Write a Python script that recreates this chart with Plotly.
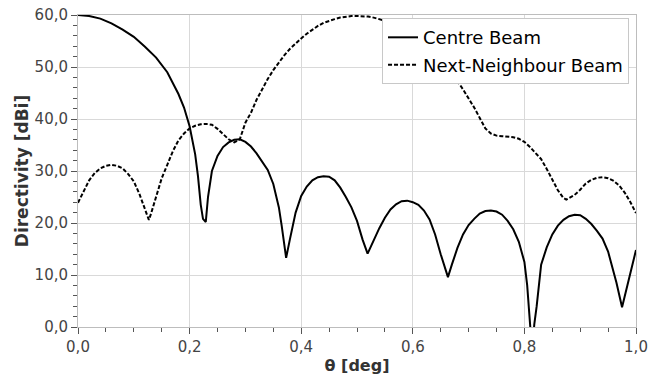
import plotly.graph_objects as go

# Centre beam
theta_c = [0.00, 0.02, 0.04, 0.06, 0.08, 0.10, 0.12, 0.14, 0.16, 0.18, 0.19, 0.20, 0.21, 0.215, 0.22, 0.224, 0.229,
           0.233, 0.24, 0.25, 0.26, 0.27, 0.28, 0.29, 0.30, 0.31, 0.32, 0.33, 0.34, 0.35, 0.36, 0.365, 0.373,
           0.38, 0.385, 0.39, 0.40, 0.41, 0.42, 0.43, 0.44, 0.45, 0.46, 0.47, 0.48, 0.49, 0.50, 0.51, 0.519,
           0.525, 0.53, 0.54, 0.55, 0.56, 0.57, 0.58, 0.59, 0.60, 0.61, 0.62, 0.63, 0.64, 0.65, 0.663,
           0.67, 0.68, 0.69, 0.70, 0.71, 0.72, 0.73, 0.74, 0.75, 0.76, 0.77, 0.78, 0.79, 0.80, 0.805, 0.81, 0.814,
           0.8177, 0.822, 0.83, 0.84, 0.85, 0.86, 0.87, 0.88, 0.89, 0.90, 0.91, 0.92, 0.93, 0.94, 0.95, 0.96, 0.965,
           0.975, 0.98, 0.99, 1.00]
dir_c = [60.0, 59.8, 59.3, 58.4, 57.2, 55.8, 53.9, 51.8, 49.0, 44.8, 42.2, 38.6, 33.2, 29.0, 23.5, 20.8, 20.2,
         25.0, 30.0, 32.9, 34.6, 35.5, 36.0, 36.1, 35.6, 34.7, 33.4, 31.9, 30.2, 27.5, 23.0, 19.5, 13.3,
         17.0, 19.5, 22.0, 25.2, 27.0, 28.2, 28.8, 29.0, 28.9, 28.2, 26.8, 25.0, 23.0, 20.4, 16.8, 14.1,
         15.5, 17.0, 19.0, 21.0, 22.6, 23.6, 24.2, 24.3, 24.0, 23.5, 22.4, 20.7, 17.8, 14.0, 9.6,
         12.0, 15.2, 17.8, 19.6, 20.8, 21.8, 22.3, 22.4, 22.2, 21.6, 20.4, 18.8, 16.4, 12.5, 8.0, 0.5, -5.0,
         0.5, 4.0, 12.0, 15.3, 17.8, 19.5, 20.6, 21.3, 21.6, 21.5, 20.8, 19.8, 18.5, 17.0, 14.5, 10.8, 8.5,
         3.8, 6.0, 9.8, 14.8]

# Next-neighbour beam
theta_n = [0.00, 0.01, 0.02, 0.03, 0.04, 0.05, 0.06, 0.07, 0.08, 0.09, 0.10, 0.11, 0.12, 0.127, 0.13, 0.14,
           0.15, 0.16, 0.17, 0.18, 0.19, 0.20, 0.21, 0.22, 0.23, 0.24, 0.25, 0.26, 0.27, 0.28, 0.29, 0.30,
           0.31, 0.32, 0.33, 0.34, 0.35, 0.36, 0.37, 0.38, 0.39, 0.40, 0.41, 0.42, 0.43, 0.44, 0.45, 0.46,
           0.47, 0.48, 0.49, 0.50, 0.51, 0.52, 0.53, 0.54, 0.55, 0.56, 0.57, 0.58, 0.59, 0.60, 0.61, 0.62,
           0.63, 0.64, 0.65, 0.66, 0.67, 0.68, 0.69, 0.70, 0.71, 0.72, 0.73, 0.74, 0.75, 0.76, 0.77, 0.78,
           0.79, 0.80, 0.81, 0.82, 0.83, 0.84, 0.85, 0.86, 0.87, 0.875, 0.88, 0.89, 0.90, 0.91, 0.92, 0.93,
           0.94, 0.95, 0.96, 0.97, 0.98, 0.99, 1.00]
dir_n = [23.9, 26.2, 28.2, 29.6, 30.5, 31.0, 31.2, 31.0, 30.5, 29.4, 28.0, 25.6, 22.6, 20.6, 21.5, 25.3,
         28.6, 31.2, 33.8, 35.9, 37.2, 38.2, 38.7, 39.0, 39.05, 38.9, 38.1, 37.1, 36.1, 35.5, 36.1, 39.3,
         41.2, 43.7, 45.8, 47.7, 49.4, 50.9, 52.3, 53.5, 54.6, 55.5, 56.4, 57.2, 57.9, 58.5, 58.9, 59.2,
         59.5, 59.7, 59.8, 59.8, 59.8, 59.7, 59.5, 59.2, 58.9, 58.6, 58.1, 57.5, 56.8, 56.1, 55.3, 54.4,
         53.4, 52.3, 51.1, 49.8, 48.6, 47.3, 45.7, 44.0, 42.2, 40.2, 38.2, 37.2, 36.8, 36.7, 36.6, 36.5,
         36.2, 35.6, 34.6, 33.5, 32.3, 30.4, 28.2, 26.3, 24.8, 24.5, 24.8, 25.4, 26.4, 27.6, 28.3, 28.7,
         28.8, 28.6, 28.1, 27.2, 25.8, 24.0, 21.9]

series_names = ["Centre Beam", "Next-Neighbour Beam"]

FONT = "DejaVu Sans"

fig = go.Figure()
fig.add_trace(go.Scatter(x=theta_c, y=dir_c, mode="lines", name=series_names[0], legendgroup="a",
                         line=dict(color="black", width=2)))
fig.add_trace(go.Scatter(x=theta_n, y=dir_n, mode="lines", name=series_names[1], legendgroup="b",
                         line=dict(color="black", width=2, dash="4px,2px")))

fig.update_layout(
    width=659, height=376,
    margin=dict(l=78, r=23, t=15, b=49, autoexpand=False),
    paper_bgcolor="white", plot_bgcolor="white",
    separators=",.",
    font=dict(family=FONT, color="#333333"),
    showlegend=True,
    legend=dict(x=0.9875, y=0.99, xanchor="right", yanchor="top",
                bgcolor="white", bordercolor="#c8c8c8", borderwidth=1,
                font=dict(family=FONT, size=18, color="black"),
                tracegroupgap=1, traceorder="grouped", itemwidth=30),
)
fig.update_xaxes(range=[0, 1], dtick=0.2, tick0=0, tickformat=".1f", automargin=False,
                 showgrid=True, gridcolor="#d9d9d9", gridwidth=1,
                 showline=True, linecolor="#bdbdbd", linewidth=1, mirror=True,
                 ticks="outside", ticklen=6, tickcolor="#555555",
                 minor=dict(dtick=0.05, ticks="outside", ticklen=4, tickcolor="#555555", showgrid=False),
                 tickfont=dict(family=FONT, size=15, color="#444444"),
                 title=dict(text="θ [deg]", font=dict(family=FONT, size=16, color="#333333", weight="bold"),
                            standoff=4),
                 zeroline=False)
fig.update_yaxes(range=[0, 60], dtick=10, tick0=0, tickformat=".1f", automargin=False,
                 showgrid=True, gridcolor="#d9d9d9", gridwidth=1,
                 showline=True, linecolor="#bdbdbd", linewidth=1, mirror=True,
                 ticks="outside", ticklen=6, tickcolor="#555555",
                 minor=dict(dtick=2, ticks="outside", ticklen=4, tickcolor="#555555", showgrid=False),
                 tickfont=dict(family=FONT, size=15, color="#444444"),
                 title=dict(text="Directivity [dBi]", font=dict(family=FONT, size=17, color="#333333", weight="bold"),
                            standoff=1),
                 zeroline=False)

fig.write_html("out.html")
